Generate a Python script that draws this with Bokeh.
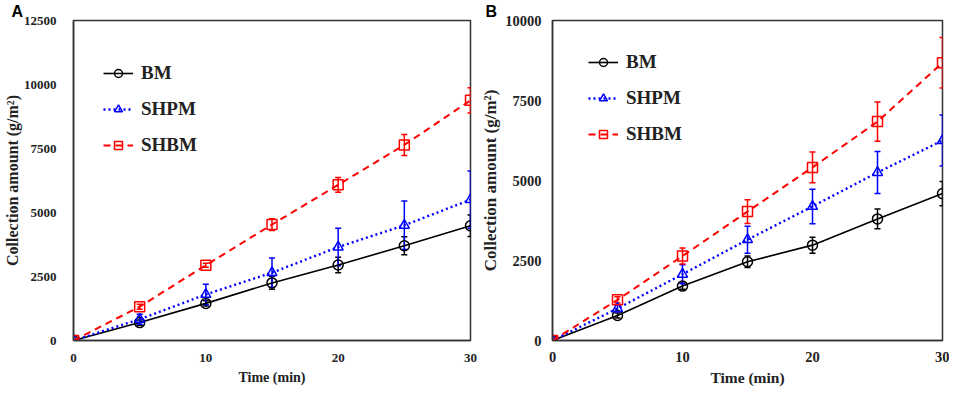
from bokeh.plotting import figure
from bokeh.layouts import row
from bokeh.models import (Range1d, FixedTicker, Whisker, ColumnDataSource, Legend,
                          LegendItem, TeeHead)
from bokeh.embed import file_html
from bokeh.resources import INLINE

# ---------------- data ----------------
time_min = [0, 5, 10, 15, 20, 25, 30]
series_names = ["BM", "SHPM", "SHBM"]

# Panel A
bm_a = [0, 700, 1450, 2250, 2950, 3700, 4480]
bm_a_err = [0, 100, 100, 250, 300, 350, 420]
shpm_a = [0, 830, 1800, 2650, 3650, 4500, 5500]
shpm_a_err = [0, 200, 400, 570, 730, 950, 1120]
shbm_a = [0, 1320, 2940, 4530, 6080, 7640, 9380]
shbm_a_err = [0, 100, 80, 230, 290, 410, 490]

# Panel B
bm_b = [0, 780, 1700, 2460, 2980, 3800, 4590]
bm_b_err = [0, 80, 100, 180, 250, 310, 380]
shpm_b = [0, 1000, 2070, 3150, 4190, 5250, 6250]
shpm_b_err = [0, 100, 300, 420, 540, 660, 800]
shbm_b = [0, 1270, 2640, 4030, 5410, 6840, 8680]
shbm_b_err = [0, 100, 250, 370, 480, 610, 790]

x_ticks = [0, 10, 20, 30]
y_ticks_a = [0, 2500, 5000, 7500, 10000, 12500]
y_ticks_b = [0, 2500, 5000, 7500, 10000]

SERIF = "Liberation Serif"
SANS = "Liberation Sans"
AXC = "#333333"

styles = [
    dict(color="black", marker="circle", dash="solid", lw=1.6),
    dict(color="#0000ff", marker="triangle", dash="2 3", lw=2.4),
    dict(color="#ff0000", marker="square", dash="7 5", lw=2.0),
]


def make_panel(letter, data, ymax, yticks, fw, bl, br, leg_loc, spacing, letter_dx, f):
    bt, fh, bb = 20, 320, 44
    p = figure(frame_width=fw, frame_height=fh, x_range=Range1d(0, 30),
               y_range=Range1d(0, ymax),
               output_backend="svg", toolbar_location=None,
               min_border_left=bl, min_border_right=br, min_border_top=bt,
               min_border_bottom=bb)
    p.xgrid.visible = False
    p.ygrid.visible = False
    p.outline_line_color = AXC
    p.outline_line_width = 1.5
    p.outline_line_alpha = 1.0

    p.title.text = letter
    p.title.align = "left"
    p.title.offset = letter_dx
    p.title.standoff = 1
    p.title.text_font = SANS
    p.title.text_font_style = "bold"
    p.title.text_font_size = "16px"
    p.title.text_color = "black"

    for ax in (p.xaxis[0], p.yaxis[0]):
        ax.axis_line_color = AXC
        ax.axis_line_width = 1.5
        ax.major_tick_line_color = None
        ax.minor_tick_line_color = None
        ax.major_label_text_font = SERIF
        ax.major_label_text_font_style = "bold"
        ax.major_label_text_font_size = f["tick"]
        ax.major_label_text_color = "#222222"
        ax.axis_label_text_font = SERIF
        ax.axis_label_text_font_style = "bold"
        ax.axis_label_text_color = "#222222"
    p.xaxis.ticker = FixedTicker(ticks=x_ticks)
    p.yaxis.ticker = FixedTicker(ticks=yticks)
    p.xaxis.axis_label = "Time (min)"
    p.xaxis.axis_label_text_font_size = f["xlab"]
    p.xaxis.major_label_standoff = f["xs1"]
    p.xaxis.axis_label_standoff = f["xs2"]
    p.yaxis.axis_label = "Collection amount (g/m²)"
    p.yaxis.axis_label_text_font_size = f["ylab"]
    p.yaxis.major_label_standoff = f["ys1"]
    p.yaxis.axis_label_standoff = f["ys2"]

    items = []
    for name, (vals, errs), st in zip(series_names, data, styles):
        src = ColumnDataSource(dict(x=time_min, y=vals,
                                    lo=[v - e for v, e in zip(vals, errs)],
                                    hi=[v + e for v, e in zip(vals, errs)]))
        w = Whisker(source=src, base="x", upper="hi", lower="lo",
                    line_color=st["color"], line_width=1.5,
                    upper_head=TeeHead(size=6, line_color=st["color"], line_width=1.5),
                    lower_head=TeeHead(size=6, line_color=st["color"], line_width=1.5))
        p.add_layout(w)
        ln = p.line("x", "y", source=src, line_color=st["color"], line_width=st["lw"],
                    line_dash=st["dash"])
        sc = p.scatter("x", "y", source=src, marker=st["marker"], size=10,
                       line_color=st["color"], line_width=1.5, fill_color=None)
        items.append(LegendItem(label=name, renderers=[ln, sc]))

    leg = Legend(items=items, location=leg_loc, orientation="vertical",
                 background_fill_alpha=0, border_line_color=None,
                 padding=0, margin=0, spacing=spacing,
                 glyph_width=30, glyph_height=20, label_height=20,
                 label_standoff=8,
                 label_text_font=SERIF, label_text_font_style="bold",
                 label_text_font_size="19px", label_text_color="#222222")
    p.add_layout(leg, "center")
    return p


fonts_a = dict(tick="13px", xlab="14px", ylab="16px", xs1=7, xs2=5, ys1=11, ys2=0)
fonts_b = dict(tick="14.5px", xlab="15.5px", ylab="17px", xs1=5, xs2=4, ys1=5, ys2=2)

pa = make_panel("A", [(bm_a, bm_a_err), (shpm_a, shpm_a_err), (shbm_a, shbm_a_err)],
                12500, y_ticks_a, 397, 65, 8, (30, 184), 14, -62, fonts_a)
pb = make_panel("B", [(bm_b, bm_b_err), (shpm_b, shpm_b_err), (shbm_b, shbm_b_err)],
                10000, y_ticks_b, 390, 69, 7, (36, 195), 14, -67, fonts_b)

layout = row(pa, pb)
open("out.html", "w").write(file_html(layout, INLINE))
